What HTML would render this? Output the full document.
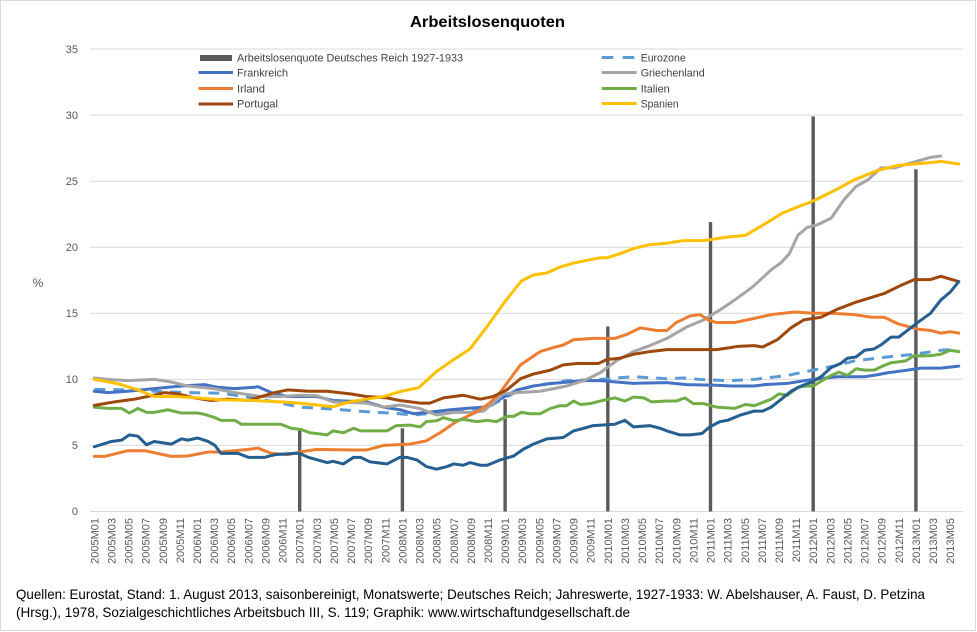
<!DOCTYPE html>
<html><head><meta charset="utf-8"><style>
html,body{margin:0;padding:0;background:#fff;}
svg{display:block;}
text{font-family:"Liberation Sans",Arial,sans-serif;}
</style></head><body>
<svg width="977" height="632" viewBox="0 0 977 632" xmlns="http://www.w3.org/2000/svg">
<rect x="0" y="0" width="977" height="632" fill="#fff"/>
<rect x="0.5" y="0.5" width="975" height="630" fill="none" stroke="#d9d9d9" stroke-width="1"/>

<text x="410" y="27" font-size="16" font-weight="bold" fill="#000" textLength="155" lengthAdjust="spacingAndGlyphs">Arbeitslosenquoten</text>

<!-- gridlines -->
<g stroke="#d9d9d9" stroke-width="1">
<line x1="90" y1="49" x2="963" y2="49"/>
<line x1="90" y1="115.1" x2="963" y2="115.1"/>
<line x1="90" y1="181.2" x2="963" y2="181.2"/>
<line x1="90" y1="247.2" x2="963" y2="247.2"/>
<line x1="90" y1="313.3" x2="963" y2="313.3"/>
<line x1="90" y1="379.4" x2="963" y2="379.4"/>
<line x1="90" y1="445.4" x2="963" y2="445.4"/>
<line x1="90" y1="511.5" x2="963" y2="511.5"/>
</g>

<!-- y labels -->
<g font-size="11" fill="#595959" text-anchor="end">
<text x="78" y="53">35</text>
<text x="78" y="119">30</text>
<text x="78" y="185">25</text>
<text x="78" y="251">20</text>
<text x="78" y="317">15</text>
<text x="78" y="383">10</text>
<text x="78" y="449">5</text>
<text x="78" y="515">0</text>
</g>
<text x="38" y="287" font-size="12" fill="#595959" text-anchor="middle">%</text>

<!-- bars -->
<g fill="#5a5a5a">
<rect x="298" y="429.6" width="3.4" height="81.9"/>
<rect x="400.7" y="428.3" width="3.4" height="83.2"/>
<rect x="503.4" y="399.2" width="3.4" height="112.3"/>
<rect x="606.1" y="326.5" width="3.4" height="185"/>
<rect x="708.8" y="222.1" width="3.4" height="289.4"/>
<rect x="811.5" y="116.4" width="3.4" height="395.1"/>
<rect x="914.2" y="169.3" width="3.4" height="342.2"/>
</g>

<!-- Eurozone dashed (pixel coords) -->
<polyline fill="none" stroke="#5B9BD5" stroke-width="3" stroke-dasharray="11,8" stroke-linejoin="round"
points="94.3,389.4 127.7,389.9 154.2,391.3 187.6,392.6 221.0,393.2 254.3,397.9 280.9,403.1 299.7,407.1 333.1,409.1 366.5,411.7 399.8,413.7 413.5,415.0 440.1,412.4 466.6,411.7 483.7,409.8 500.0,400.5 519.7,389.9 533.4,386.0 550.5,383.3 566.7,380.7 600.1,379.4 633.5,376.7 666.9,378.7 683.2,378.0 699.4,379.4 727.6,380.7 754.2,379.4 787.6,375.4 813.2,370.1 837.2,365.4 854.3,360.9 887.7,356.9 914.2,354.3 940.8,350.3 950.2,349.6"/>

<g transform="translate(94.28,511.5) scale(8.559,-13.214)" fill="none" stroke-width="3" stroke-linejoin="round" stroke-linecap="round">
<!-- Frankreich -->
<polyline vector-effect="non-scaling-stroke" stroke="#4472C4" points="0,9.1 1.6,9.0 3.9,9.1 7,9.3 10.2,9.5 12.9,9.6 14.4,9.4 16.4,9.3 18.7,9.4 19.1,9.45 20.7,9.0 22.6,8.7 25,8.7 26,8.7 27.9,8.4 31.8,8.3 33.8,7.9 35.7,7.7 37.3,7.4 39.6,7.55 41.6,7.7 43.5,7.8 45.5,7.9 47.4,8.5 49.4,9.2 51.3,9.5 53.6,9.7 57.2,9.9 59.1,9.9 61,9.8 63,9.7 66.9,9.75 69.2,9.6 72.7,9.55 74.4,9.5 77.1,9.5 78.3,9.6 81,9.7 84,10.0 86.8,10.2 90,10.2 91.5,10.35 92.7,10.5 95,10.7 96.6,10.85 98.9,10.85 101,11.0"/>
<!-- Griechenland -->
<polyline vector-effect="non-scaling-stroke" stroke="#A5A5A5" points="0,10.1 1.6,10.0 3.9,9.9 7,10.0 9,9.8 10.9,9.5 14,9.3 16.4,9.0 19.5,8.7 21.8,8.7 24,8.8 26,8.76 27.9,8.3 31.8,8.2 33.8,7.9 35.7,8.06 38,7.8 40,7.3 42,7.5 43.9,7.5 45.5,7.6 47.8,8.9 49.4,9.0 52.1,9.1 55.2,9.5 57.2,9.9 59.1,10.5 61,11.4 63,12.1 64.9,12.55 66.9,13.1 69.2,13.96 71.2,14.5 73.2,15.3 74.8,16.0 76.3,16.7 77.1,17.1 79.1,18.3 80.2,18.8 81.2,19.5 82.2,20.9 83.3,21.5 84.5,21.7 86.1,22.2 87.6,23.6 89,24.6 90.4,25.1 91.9,26.0 93.5,26.0 95,26.3 96.6,26.6 97.7,26.8 98.9,26.9"/>
<!-- Irland -->
<polyline vector-effect="non-scaling-stroke" stroke="#ED7D31" points="0,4.17 1.2,4.17 3.9,4.6 5.9,4.6 9,4.17 10.9,4.2 13.3,4.5 14.8,4.5 18,4.7 19.1,4.8 20.7,4.4 22.6,4.3 24,4.5 26,4.7 29.9,4.65 31.8,4.65 33.8,5.0 36.9,5.1 38.8,5.35 40.4,5.96 42.3,6.8 44.7,7.55 46.2,8.2 47.4,9.0 48.2,9.7 49.8,11.1 52.1,12.1 53.6,12.4 54.8,12.6 56,13.0 58.3,13.1 60.8,13.1 62.2,13.4 63.8,13.9 65.7,13.7 66.9,13.7 68,14.3 69.6,14.8 70.8,14.9 71.7,14.5 72.7,14.3 74.8,14.3 76.3,14.5 79.1,14.9 81.8,15.1 84.1,15.0 86.1,15.0 88.8,14.9 90.8,14.7 92.3,14.7 93.9,14.2 96.2,13.8 97.7,13.7 98.9,13.5 100,13.6 101,13.5"/>
<!-- Italien -->
<polyline vector-effect="non-scaling-stroke" stroke="#70AD47" points="0,7.9 1.6,7.8 3.2,7.8 4.1,7.45 5.1,7.8 6.1,7.5 7,7.5 8.6,7.7 10.2,7.45 12.1,7.45 12.9,7.35 14.1,7.1 14.8,6.9 16.4,6.9 17.2,6.6 21.8,6.6 23,6.3 24.2,6.2 25.2,5.96 27.2,5.8 27.9,6.1 29.1,5.96 30.3,6.3 31.1,6.1 34.2,6.1 35.3,6.5 36.9,6.54 38.1,6.4 38.8,6.8 40,6.87 40.8,7.1 42,6.87 43.1,6.97 44.7,6.8 45.9,6.9 47,6.8 48.2,7.2 49,7.2 49.9,7.5 50.9,7.4 52.1,7.4 53.3,7.8 54.4,8.0 55.2,8.0 56,8.36 56.8,8.1 57.9,8.16 59.1,8.36 60.8,8.6 62,8.36 63,8.66 64.2,8.6 65.1,8.3 66.9,8.36 68,8.36 69,8.6 70,8.16 71.2,8.16 72.7,7.9 74.8,7.8 76.1,8.1 77.1,8.0 78.3,8.3 79.1,8.5 80,8.9 81,8.8 82.2,9.4 83.3,9.5 84,9.5 84.9,9.85 86.1,10.3 87,10.55 88,10.3 89,10.8 90,10.7 91.1,10.7 92.3,11.06 93.1,11.26 94.8,11.4 95.8,11.8 96.6,11.77 97.7,11.8 98.9,11.9 100,12.2 101,12.1"/>
<!-- Portugal -->
<polyline vector-effect="non-scaling-stroke" stroke="#9E480E" points="0,8.03 2.4,8.3 4.7,8.5 7,8.8 8.2,9.0 9.8,8.9 11.7,8.6 13.7,8.4 15.6,8.5 18,8.4 19.5,8.7 21.1,9.0 22.6,9.2 25,9.1 27.2,9.1 29.9,8.9 31.8,8.7 34.2,8.6 35.7,8.4 38.1,8.2 39.2,8.2 40.8,8.6 43.1,8.8 45.1,8.5 46.6,8.7 48.2,9.2 49.8,10.05 51.3,10.4 53.3,10.7 54.8,11.1 56.4,11.2 58.9,11.2 59.9,11.5 61.4,11.6 63,11.9 64.9,12.1 66.9,12.25 72.7,12.25 74.3,12.4 75.2,12.5 77.1,12.55 78.1,12.45 79.8,13.0 81.4,13.9 82.9,14.5 84.9,14.7 86.8,15.3 88.8,15.8 90.8,16.2 92.3,16.5 94.2,17.1 95.8,17.55 97.7,17.55 98.9,17.8 101,17.4"/>
<!-- Spanien -->
<polyline vector-effect="non-scaling-stroke" stroke="#FFC000" points="0,10.0 2.8,9.67 5.1,9.2 7,8.7 9.4,8.7 11,8.65 14.8,8.46 18.7,8.4 21.8,8.3 24,8.2 27.9,7.93 29.9,8.3 31.8,8.5 33.8,8.7 35.7,9.07 37.9,9.37 40,10.6 42,11.5 43.9,12.3 45.9,14.0 48,15.9 49.9,17.45 51.3,17.9 52.9,18.06 54.4,18.5 56,18.8 57.5,19.0 59.1,19.2 59.9,19.2 61.4,19.5 63,19.9 64.9,20.2 66.9,20.3 68.8,20.5 71.2,20.5 73.2,20.7 74.4,20.8 76.1,20.9 78.7,21.9 80.3,22.55 82.2,23.05 84,23.5 86.8,24.4 88.8,25.1 91.5,25.8 93.9,26.2 95.8,26.3 97.7,26.4 98.9,26.5 101,26.3"/>
<!-- Zypern -->
<polyline vector-effect="non-scaling-stroke" stroke="#255E91" points="0,4.9 2,5.3 3.2,5.4 4.1,5.8 5.1,5.7 6.1,5.05 7,5.3 9,5.1 10.2,5.5 10.9,5.4 12.1,5.56 13.3,5.3 14.1,5.0 14.8,4.4 16.8,4.4 18,4.1 19.9,4.1 21.1,4.3 23.4,4.4 24,4.4 25,4.1 27.2,3.7 27.9,3.8 29.1,3.6 30.3,4.1 31.1,4.1 32.2,3.76 34.2,3.6 35.7,4.1 36.5,4.1 37.7,3.9 38.8,3.4 40,3.2 41.2,3.4 42,3.6 43.1,3.5 43.9,3.7 45.1,3.5 45.9,3.5 47.4,3.9 49,4.2 50.1,4.7 51.3,5.1 52.9,5.5 54.8,5.6 56,6.1 57.2,6.3 58.3,6.5 60.8,6.6 62,6.9 63,6.4 64.9,6.5 66.1,6.3 66.9,6.1 68.4,5.8 69.6,5.8 71,5.9 71.9,6.4 73.1,6.8 74,6.9 75.5,7.3 77.1,7.6 78.1,7.6 79.1,7.9 80.2,8.46 81.4,9.1 82.6,9.5 84,9.85 84.9,10.2 86.1,10.9 87.2,11.2 88,11.6 89,11.7 90,12.2 91.1,12.3 91.9,12.6 93.1,13.2 94,13.2 95,13.7 96.2,14.3 97.7,15.0 98.9,16.0 100,16.6 101,17.4"/>
</g>

<!-- legend -->
<rect x="200" y="55" width="32" height="6" fill="#5a5a5a"/>
<g stroke-width="3" fill="none">
<line x1="198.5" y1="72.5" x2="233" y2="72.5" stroke="#4472C4"/>
<line x1="198.5" y1="88.5" x2="233" y2="88.5" stroke="#ED7D31"/>
<line x1="198.5" y1="104" x2="233" y2="104" stroke="#9E480E"/>
<line x1="601.7" y1="57.5" x2="613.3" y2="57.5" stroke="#5B9BD5"/>
<line x1="622.7" y1="57.5" x2="634.3" y2="57.5" stroke="#5B9BD5"/>
<line x1="601.7" y1="72.5" x2="636.7" y2="72.5" stroke="#A5A5A5"/>
<line x1="601.7" y1="88.5" x2="636.7" y2="88.5" stroke="#70AD47"/>
<line x1="601.7" y1="103.5" x2="636.7" y2="103.5" stroke="#FFC000"/>
</g>
<g font-size="11" fill="#404040" lengthAdjust="spacingAndGlyphs">
<text x="237" y="61.5" textLength="226" lengthAdjust="spacingAndGlyphs">Arbeitslosenquote Deutsches Reich 1927-1933</text>
<text x="237" y="76.5" textLength="51" lengthAdjust="spacingAndGlyphs">Frankreich</text>
<text x="237" y="92.5" textLength="28" lengthAdjust="spacingAndGlyphs">Irland</text>
<text x="237" y="107.5" textLength="41" lengthAdjust="spacingAndGlyphs">Portugal</text>
<text x="640.7" y="61.5" textLength="45" lengthAdjust="spacingAndGlyphs">Eurozone</text>
<text x="640.7" y="76.5" textLength="64" lengthAdjust="spacingAndGlyphs">Griechenland</text>
<text x="640.7" y="92.5" textLength="29" lengthAdjust="spacingAndGlyphs">Italien</text>
<text x="640.7" y="107.5" textLength="38" lengthAdjust="spacingAndGlyphs">Spanien</text>
</g>

<!-- x labels -->
<g transform="rotate(-90)" font-size="11" fill="#595959" text-anchor="end">
<text x="-518" y="98.3">2005M01</text>
<text x="-518" y="115.4">2005M03</text>
<text x="-518" y="132.5">2005M05</text>
<text x="-518" y="149.6">2005M07</text>
<text x="-518" y="166.8">2005M09</text>
<text x="-518" y="183.9">2005M11</text>
<text x="-518" y="201.0">2006M01</text>
<text x="-518" y="218.1">2006M03</text>
<text x="-518" y="235.2">2006M05</text>
<text x="-518" y="252.3">2006M07</text>
<text x="-518" y="269.5">2006M09</text>
<text x="-518" y="286.6">2006M11</text>
<text x="-518" y="303.7">2007M01</text>
<text x="-518" y="320.8">2007M03</text>
<text x="-518" y="337.9">2007M05</text>
<text x="-518" y="355.0">2007M07</text>
<text x="-518" y="372.2">2007M09</text>
<text x="-518" y="389.3">2007M11</text>
<text x="-518" y="406.4">2008M01</text>
<text x="-518" y="423.5">2008M03</text>
<text x="-518" y="440.6">2008M05</text>
<text x="-518" y="457.8">2008M07</text>
<text x="-518" y="474.9">2008M09</text>
<text x="-518" y="492.0">2008M11</text>
<text x="-518" y="509.1">2009M01</text>
<text x="-518" y="526.2">2009M03</text>
<text x="-518" y="543.3">2009M05</text>
<text x="-518" y="560.5">2009M07</text>
<text x="-518" y="577.6">2009M09</text>
<text x="-518" y="594.7">2009M11</text>
<text x="-518" y="611.8">2010M01</text>
<text x="-518" y="628.9">2010M03</text>
<text x="-518" y="646.1">2010M05</text>
<text x="-518" y="663.2">2010M07</text>
<text x="-518" y="680.3">2010M09</text>
<text x="-518" y="697.4">2010M11</text>
<text x="-518" y="714.5">2011M01</text>
<text x="-518" y="731.6">2011M03</text>
<text x="-518" y="748.8">2011M05</text>
<text x="-518" y="765.9">2011M07</text>
<text x="-518" y="783.0">2011M09</text>
<text x="-518" y="800.1">2011M11</text>
<text x="-518" y="817.2">2012M01</text>
<text x="-518" y="834.4">2012M03</text>
<text x="-518" y="851.5">2012M05</text>
<text x="-518" y="868.6">2012M07</text>
<text x="-518" y="885.7">2012M09</text>
<text x="-518" y="902.8">2012M11</text>
<text x="-518" y="919.9">2013M01</text>
<text x="-518" y="937.1">2013M03</text>
<text x="-518" y="954.2">2013M05</text>
</g>

<!-- footer -->
<g font-size="14" fill="#000">
<text x="16" y="599" textLength="909" lengthAdjust="spacingAndGlyphs">Quellen: Eurostat, Stand: 1. August 2013,  saisonbereinigt, Monatswerte; Deutsches Reich; Jahreswerte, 1927-1933: W. Abelshauser,  A. Faust, D. Petzina</text>
<text x="16" y="617" textLength="614" lengthAdjust="spacingAndGlyphs">(Hrsg.), 1978, Sozialgeschichtliches Arbeitsbuch III, S. 119;  Graphik: www.wirtschaftundgesellschaft.de</text>
</g>
</svg>
</body></html>
